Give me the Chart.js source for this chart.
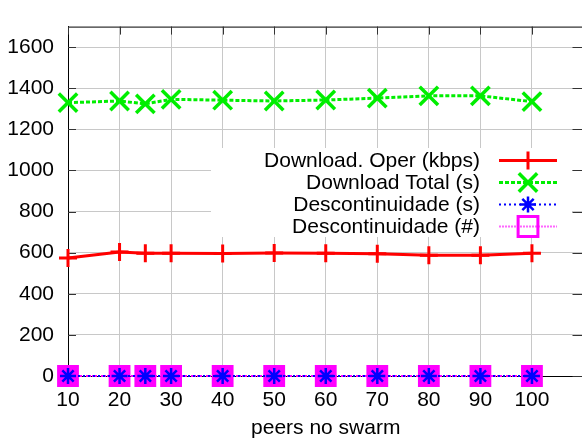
<!DOCTYPE html>
<html>
<head>
<meta charset="utf-8">
<script src="https://cdn.jsdelivr.net/npm/chart.js@4/dist/chart.umd.min.js"></script>
<style>
  html, body { margin: 0; padding: 0; background: #fff; overflow: hidden; }
  #wrap { width: 582px; height: 441px; overflow: hidden; position: relative; }
  canvas { display: block; }
</style>
</head>
<body>
<div id="wrap"><canvas id="c" width="600" height="441"></canvas></div>
<script>
// ---- data ----
const peers = [10, 20, 25, 30, 40, 50, 60, 70, 80, 90, 100];
const downloadOper = [574, 603, 597, 597, 596, 598, 597, 595, 587, 587, 597];
const downloadTotal = [1330, 1338, 1324, 1346, 1342, 1338, 1343, 1352, 1363, 1363, 1335];
const descontS = [0, 0, 0, 0, 0, 0, 0, 0, 0, 0, 0];
const descontN = [0, 0, 0, 0, 0, 0, 0, 0, 0, 0, 0];
const seriesNames = ['Download. Oper (kbps)', 'Download Total (s)', 'Descontinuidade (s)', 'Descontinuidade (#)'];
const xTicks = [10, 20, 30, 40, 50, 60, 70, 80, 90, 100];
const yTicks = [0, 200, 400, 600, 800, 1000, 1200, 1400, 1600];
const xTitle = 'peers no swarm';

const FONT = '"Liberation Sans", Arial, Helvetica, sans-serif';
const pts = arr => peers.map((p, i) => ({x: p, y: arr[i]}));

const styles = [
  {color: '#ff0000', dash: [], width: 3, point: 'cross', r: 9, pw: 3},
  {color: '#00ee00', dash: [4, 2], width: 3, point: 'crossRot', r: 13, pw: 3.5},
  {color: '#0000ff', dash: [2, 3], width: 2, point: 'star', r: 8, pw: 2.5},
  {color: '#ff00ff', dash: [2, 1], width: 2, point: 'rect', r: 14, pw: 2}
];

function drawMarker(ctx, kind, x, y, r, color, lw, fill) {
  ctx.save();
  ctx.strokeStyle = color; ctx.lineWidth = lw; ctx.setLineDash([]);
  ctx.beginPath();
  if (kind === 'cross' || kind === 'star') {
    ctx.moveTo(x - r, y); ctx.lineTo(x + r, y);
    ctx.moveTo(x, y - r); ctx.lineTo(x, y + r);
  }
  if (kind === 'crossRot' || kind === 'star') {
    const o = r * Math.SQRT1_2;
    ctx.moveTo(x - o, y - o); ctx.lineTo(x + o, y + o);
    ctx.moveTo(x - o, y + o); ctx.lineTo(x + o, y - o);
  }
  if (kind === 'rect') {
    const s = r * Math.SQRT1_2;
    if (fill) { ctx.fillStyle = fill; ctx.fillRect(x - s, y - s, 2 * s, 2 * s); }
    ctx.rect(x - s, y - s, 2 * s, 2 * s);
  }
  ctx.stroke();
  ctx.restore();
}

const framePlugin = {
  id: 'frame',
  beforeDatasetsDraw(chart) {
    const ctx = chart.ctx, a = chart.chartArea;
    const xs = chart.scales.x, ys = chart.scales.y;
    ctx.save();
    // opaque legend box
    ctx.fillStyle = '#ffffff';
    ctx.fillRect(211, 148, 361, 89);
    // top border
    ctx.strokeStyle = '#000'; ctx.lineWidth = 1;
    ctx.beginPath();
    ctx.moveTo(a.left, a.top + 0.5); ctx.lineTo(a.right, a.top + 0.5);
    ctx.moveTo(a.right - 0.5, a.top); ctx.lineTo(a.right - 0.5, a.bottom);
    ctx.stroke();
    // inward tick marks
    ctx.strokeStyle = '#333';
    ctx.beginPath();
    xTicks.forEach(v => {
      const px = Math.round(xs.getPixelForValue(v)) + 0.5;
      ctx.moveTo(px, a.top); ctx.lineTo(px, a.top + 8);
      ctx.moveTo(px, a.bottom); ctx.lineTo(px, a.bottom - 8);
    });
    yTicks.forEach(v => {
      const py = Math.round(ys.getPixelForValue(v)) + 0.5;
      ctx.moveTo(a.left, py); ctx.lineTo(a.left + 8, py);
      ctx.moveTo(a.right, py); ctx.lineTo(a.right - 11, py);
    });
    ctx.stroke();
    ctx.restore();
  },
  afterDatasetsDraw(chart) {
    const ctx = chart.ctx;
    const rows = [160.5, 182.5, 204.5, 226.5];
    ctx.save();
    ctx.font = '21px ' + FONT;
    ctx.fillStyle = '#000';
    ctx.textAlign = 'right';
    ctx.textBaseline = 'middle';
    seriesNames.forEach((name, i) => {
      const y = rows[i];
      const st = styles[i];
      ctx.fillText(name, 480, y + 1);
      ctx.save();
      ctx.strokeStyle = i === 3 ? '#ff66ff' : st.color;
      ctx.lineWidth = st.width;
      ctx.setLineDash(st.dash);
      ctx.beginPath(); ctx.moveTo(499, y); ctx.lineTo(557, y); ctx.stroke();
      ctx.restore();
      if (i === 3) {
        drawMarker(ctx, 'rect', 528, y, 14, st.color, 3, null);
      } else {
        drawMarker(ctx, st.point, 528, y, st.r, st.color, st.pw, null);
      }
    });
    ctx.restore();
  }
};

const mkDs = (i, data, order) => ({
  label: seriesNames[i],
  data: pts(data),
  borderColor: styles[i].color,
  backgroundColor: i === 3 ? styles[i].color : 'transparent',
  borderWidth: styles[i].width,
  borderDash: styles[i].dash,
  pointStyle: styles[i].point,
  pointRadius: styles[i].r,
  pointBorderWidth: styles[i].pw,
  pointBorderColor: styles[i].color,
  pointBackgroundColor: i === 3 ? styles[i].color : 'transparent',
  pointHoverRadius: styles[i].r,
  tension: 0,
  clip: false,
  order: order
});

new Chart(document.getElementById('c'), {
  type: 'line',
  data: {
    datasets: [
      mkDs(0, downloadOper, 2),
      mkDs(1, downloadTotal, 3),
      mkDs(2, descontS, 0),
      mkDs(3, descontN, 1)
    ]
  },
  options: {
    responsive: false,
    animation: false,
    devicePixelRatio: 1,
    layout: { padding: { left: 0, top: 10, right: 16.5, bottom: 0 } },
    plugins: { legend: { display: false }, tooltip: { enabled: false } },
    scales: {
      x: {
        type: 'linear', min: 10, max: 110,
        afterBuildTicks: s => { s.ticks = xTicks.map(v => ({value: v})); },
        afterFit: s => { s.height = 65; },
        grid: { color: '#c8c8c8', lineWidth: 1, drawTicks: false },
        border: { color: '#000', width: 1 },
        ticks: { color: '#000', font: { family: FONT, size: 21 }, padding: 12, maxRotation: 0, autoSkip: false,
                 callback: v => String(v) },
        title: { display: true, text: xTitle, color: '#000', font: { family: FONT, size: 21 }, padding: { top: 0, bottom: 0 } }
      },
      y: {
        type: 'linear', min: 0, max: 1700,
        afterBuildTicks: s => { s.ticks = yTicks.map(v => ({value: v})); },
        afterFit: s => { s.width = 68; },
        grid: { color: '#c8c8c8', lineWidth: 1, drawTicks: false },
        border: { color: '#000', width: 1 },
        ticks: { color: '#000', font: { family: FONT, size: 21 }, padding: 14, callback: v => String(v) }
      }
    }
  },
  plugins: [framePlugin]
});
</script>
</body>
</html>
